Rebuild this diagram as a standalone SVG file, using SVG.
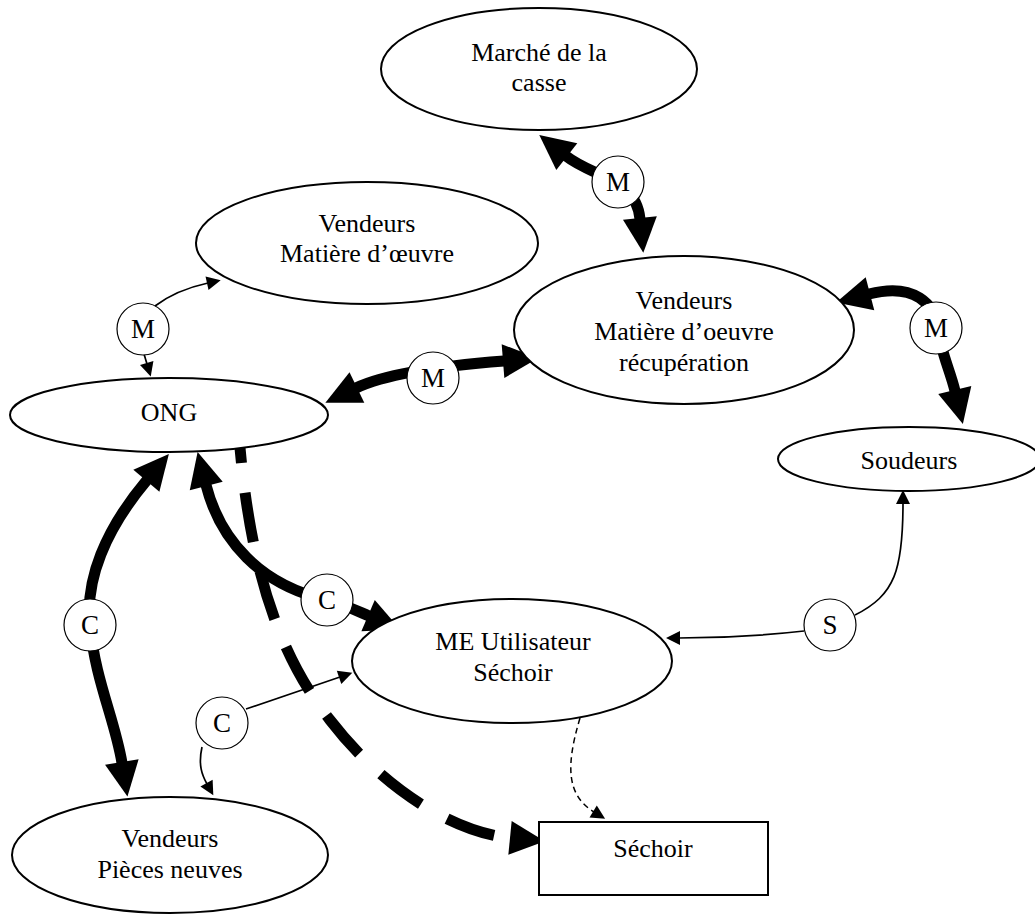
<svg xmlns="http://www.w3.org/2000/svg" width="1035" height="917" viewBox="0 0 1035 917">
<defs>
<marker id="ah" markerUnits="userSpaceOnUse" markerWidth="40" markerHeight="40" refX="1" refY="0" viewBox="0 -20 40 40" orient="auto-start-reverse" overflow="visible"><path d="M0,-17 L35,0 L0,17 Z" fill="#000"/></marker>
<marker id="at" markerUnits="userSpaceOnUse" markerWidth="16" markerHeight="16" refX="1" refY="0" viewBox="0 -8 16 16" orient="auto-start-reverse" overflow="visible"><path d="M0,-7 L14,0 L0,7 Z" fill="#000"/></marker>
<style>
.node{fill:#fff;stroke:#000;stroke-width:2}
.lbl{fill:#fff;stroke:#000;stroke-width:1.2}
text{font-family:"Liberation Serif","Times New Roman",serif;font-size:26px;fill:#000;text-anchor:middle}
.lt{font-size:27px}
.thick{fill:none;stroke:#000;stroke-width:11}
.thin{fill:none;stroke:#000;stroke-width:1.7}
.dthick{fill:none;stroke:#000;stroke-width:11;stroke-dasharray:50 30;stroke-dashoffset:11}
.dthin{fill:none;stroke:#000;stroke-width:1.5;stroke-dasharray:6 4}
</style>
</defs>
<rect width="1035" height="917" fill="#fff"/>
<g id="connectors">
<path class="dthick" d="M238,424 C248,560 275,650 330,720 C380,785 450,832 511,838" marker-end="url(#ah)"/>
<path class="thick" d="M566,156 C594,178 636,178 640,219" marker-start="url(#ah)" marker-end="url(#ah)"/>
<path class="thick" d="M356,388 C385,374 440,366 504,361" marker-start="url(#ah)" marker-end="url(#ah)"/>
<path class="thick" d="M869,294 C915,282 935,305 938,328 C940,350 950,370 955,391" marker-start="url(#ah)" marker-end="url(#ah)"/>
<path class="thick" d="M147,480 C105,530 85,580 90,625 C95,680 115,720 122,763" marker-start="url(#ah)" marker-end="url(#ah)"/>
<path class="thick" d="M206,485 C220,540 260,585 327,600 C345,605 355,610 369,616" marker-start="url(#ah)" marker-end="url(#ah)"/>
<path class="thin" d="M155,306 Q176,290 208,283" marker-end="url(#at)"/>
<path class="thin" d="M144,354 L147,364" marker-end="url(#at)"/>
<path class="thin" d="M855,615 C895,595 903,570 903,503" marker-end="url(#at)"/>
<path class="thin" d="M804,631 C760,636 720,638 679,638" marker-end="url(#at)"/>
<path class="thin" d="M246,709 L340,677" marker-end="url(#at)"/>
<path class="thin" d="M202,747 C198,765 202,775 207,784" marker-end="url(#at)"/>
<path class="dthin" d="M580,718 C566,765 566,795 594,812" marker-end="url(#at)"/>
</g>
<g id="n-marche"><ellipse class="node" cx="539" cy="69" rx="158" ry="61"/><text x="539" y="61">Marché de la</text><text x="539" y="91">casse</text></g>
<g id="n-vmo"><ellipse class="node" cx="367" cy="243" rx="171" ry="61"/><text x="367" y="232">Vendeurs</text><text x="367" y="262">Matière d’œuvre</text></g>
<g id="n-vmor"><ellipse class="node" cx="684" cy="330" rx="170" ry="74"/><text x="684" y="309">Vendeurs</text><text x="684" y="340">Matière d’oeuvre</text><text x="684" y="371">récupération</text></g>
<g id="n-ong"><ellipse class="node" cx="169" cy="415" rx="159" ry="37"/><text x="169" y="421">ONG</text></g>
<g id="n-soudeurs"><ellipse class="node" cx="909" cy="459" rx="131" ry="32"/><text x="909" y="469">Soudeurs</text></g>
<g id="n-me"><ellipse class="node" cx="512" cy="661" rx="160" ry="62"/><text x="513" y="650">ME Utilisateur</text><text x="513" y="681">Séchoir</text></g>
<g id="n-vpn"><ellipse class="node" cx="170" cy="855" rx="158" ry="58"/><text x="170" y="847">Vendeurs</text><text x="170" y="878">Pièces neuves</text></g>
<g id="n-sechoir"><rect class="node" x="539" y="822" width="229" height="73"/><text x="653" y="857">Séchoir</text></g>
<g id="labels">
<g id="l-m1"><circle class="lbl" cx="618" cy="182" r="26"/><text class="lt" x="618" y="191">M</text></g>
<g id="l-m2"><circle class="lbl" cx="143" cy="329" r="26"/><text class="lt" x="143" y="338">M</text></g>
<g id="l-m3"><circle class="lbl" cx="433" cy="378" r="26"/><text class="lt" x="433" y="387">M</text></g>
<g id="l-m4"><circle class="lbl" cx="936" cy="328" r="26"/><text class="lt" x="936" y="337">M</text></g>
<g id="l-c1"><circle class="lbl" cx="327" cy="600" r="26"/><text class="lt" x="327" y="609">C</text></g>
<g id="l-c2"><circle class="lbl" cx="222" cy="723" r="26"/><text class="lt" x="222" y="732">C</text></g>
<g id="l-c3"><circle class="lbl" cx="90" cy="625" r="26"/><text class="lt" x="90" y="634">C</text></g>
<g id="l-s"><circle class="lbl" cx="830" cy="625" r="26"/><text class="lt" x="830" y="634">S</text></g>
</g>
</svg>
